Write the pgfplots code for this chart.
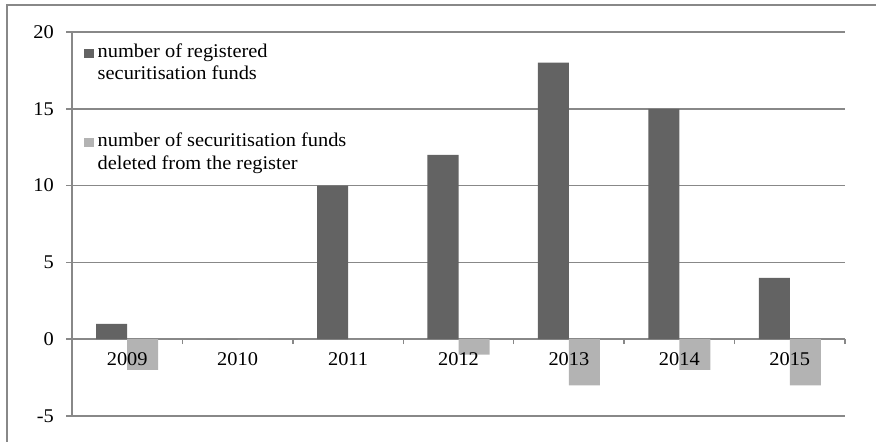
\documentclass[border=0pt]{standalone}
\usepackage{pgfplots}
\pgfplotsset{compat=1.18}
\usepackage{fontspec}
\setmainfont{Liberation Serif}[FakeStretch=1.05]
\definecolor{darkbar}{RGB}{99,99,99}
\definecolor{lightbar}{RGB}{179,179,179}
\definecolor{gridgray}{RGB}{136,136,136}
\pgfplotsset{
  mysq/.style={legend image code/.code={\fill[##1] (0bp,0bp) rectangle (9.5bp,9bp);}},
}
\begin{document}
\fontsize{19.5}{22.5}\selectfont
\begin{tikzpicture}[x=1bp,y=1bp]
\begin{axis}[
  at={(72bp,26bp)}, anchor=south west,
  scale only axis, width=773bp, height=384bp,
  set layers,
  font=\fontsize{19.5}{22.5}\selectfont,
  ybar=0pt, bar width=0.281,
  xmin=-0.5, xmax=6.5, ymin=-5, ymax=20,
  axis x line*=middle, axis y line*=left,
  axis line style={gridgray, line width=1.5bp},
  ytick={-5,0,5,10,15,20}, yticklabels={-5,0,5,10,15,20},
  ymajorgrids, grid style={gridgray, line width=1.5bp},
  tick style={gridgray, line width=1.5bp},
  tick align=outside,
  major tick length=6bp, minor tick length=5bp,
  xtick={0,1,2,3,4,5,6},
  xticklabels={2009,2010,2011,2012,2013,2014,2015},
  major x tick style={draw=none},
  minor xtick={0.5,1.5,2.5,3.5,4.5,5.5,6.5},
  hide obscured x ticks=false, hide obscured y ticks=false,
  xticklabel style={anchor=north, inner sep=0pt, yshift=-7bp, /pgfplots/on layer=axis foreground},
  yticklabel style={anchor=east, inner sep=0pt, xshift=-12bp},
  legend style={at={(0,1)}, anchor=north west, xshift=12bp, yshift=-11.7bp,
    draw=none, fill=none, inner sep=0pt, row sep=72.5bp, column sep=4bp,
    font=\fontsize{19.5}{22.5}\selectfont,
    nodes={inner sep=0pt, anchor=base west}},
]
\addplot[fill=darkbar, draw=none, mysq] coordinates {(0,1) (1,0) (2,10) (3,12) (4,18) (5,15) (6,4)};
\addlegendentry{\vtop{\hbox{number of registered}\hbox{securitisation funds}}}
\addplot[fill=lightbar, draw=none, mysq] coordinates {(0,-2) (1,0) (2,0) (3,-1) (4,-3) (5,-2) (6,-3)};
\addlegendentry{\vtop{\hbox{number of securitisation funds}\hbox{deleted from the register}}}
\end{axis}
\draw[gridgray, line width=1.5bp] (7,0) -- (7,437) -- (876,437);
\pgfresetboundingbox
\useasboundingbox (0,0) rectangle (876,442);
\end{tikzpicture}
\end{document}
